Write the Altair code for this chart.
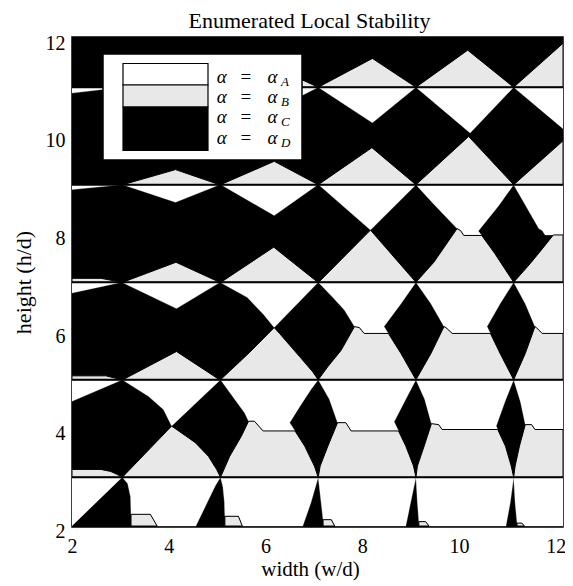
import altair as alt
import pandas as pd

TITLE = "Enumerated Local Stability"
X_TITLE = "width (w/d)"
Y_TITLE = "height (h/d)"
X_TICKS = [2, 4, 6, 8, 10, 12]
Y_TICKS = [2, 4, 6, 8, 10, 12]
SEPARATOR_HEIGHTS = [3, 5, 7, 9, 11]
LEGEND_SUBSCRIPTS = ["A", "B", "C", "D"]
STATE_COLORS = {"A": "#ffffff", "B": "#e8e8e8", "C": "#000000", "D": "#000000"}

# regions where alpha = alpha_A (white)
WHITE_REGIONS = [
    # band 2-3
    [(2, 2), (2, 3), (3.04, 3)],
    [(3.04, 3), (3.15, 2.87), (3.21, 2.6), (3.22, 2.24), (3.62, 2.24), (3.76, 2), (4.56, 2), (4.76, 2.41), (4.96, 2.82), (5.07, 3)],
    [(5.07, 3), (5.12, 2.8), (5.15, 2.5), (5.16, 2.2), (5.44, 2.2), (5.52, 2), (6.77, 2), (6.94, 2.48), (7.09, 3)],
    [(7.09, 3), (7.15, 2.48), (7.19, 2.13), (7.36, 2.13), (7.43, 2), (8.9, 2), (9.0, 2.48), (9.11, 3)],
    [(9.11, 3), (9.14, 2.48), (9.17, 2.09), (9.31, 2.09), (9.38, 2), (10.97, 2), (11.06, 2.48), (11.13, 3)],
    [(11.13, 3), (11.16, 2.48), (11.2, 2.06), (11.3, 2.06), (11.35, 2), (12.15, 2), (12.15, 3)],
    # band 3-5
    [(2, 5), (2, 4.56), (3.04, 5)],
    [(3.04, 5), (3.58, 4.66), (3.89, 4.39), (4.06, 4.05), (5.07, 5)],
    [(5.07, 5), (5.37, 4.59), (5.57, 4.32), (5.65, 4.15), (5.77, 4.15), (5.95, 3.95), (6.61, 3.95), (6.5, 4.12), (6.74, 4.5), (6.94, 4.8), (7.09, 5)],
    [(7.09, 5), (7.32, 4.6), (7.49, 4.12), (7.66, 4.12), (7.77, 3.95), (8.75, 3.95), (8.66, 4.14), (8.9, 4.6), (9.11, 5)],
    [(9.11, 5), (9.29, 4.6), (9.43, 4.1), (9.58, 4.08), (9.65, 3.98), (10.8, 3.98), (10.77, 4.05), (10.95, 4.55), (11.13, 5)],
    [(11.13, 5), (11.27, 4.55), (11.37, 4.08), (11.5, 4.08), (11.57, 3.98), (12.15, 3.98), (12.15, 5)],
    # band 5-7
    [(2, 7), (2, 6.78), (3.03, 7)],
    [(3.03, 7), (4.16, 6.46), (5.06, 7)],
    [(5.06, 7), (5.62, 6.69), (5.96, 6.34), (6.18, 6.07), (7.09, 7)],
    [(7.09, 7), (7.38, 6.7), (7.63, 6.43), (7.84, 6.09), (7.94, 6.07), (8.04, 5.95), (8.54, 5.95), (8.45, 6.09), (8.8, 6.56), (9.11, 7)],
    [(9.11, 7), (9.42, 6.56), (9.69, 6.09), (9.73, 6.07), (9.86, 5.95), (10.65, 5.95), (10.58, 6.09), (10.85, 6.56), (11.13, 7)],
    [(11.13, 7), (11.37, 6.56), (11.57, 6.09), (11.6, 6.07), (11.72, 5.95), (12.15, 5.95), (12.15, 7)],
    # band 7-9
    [(2, 9), (2, 8.9), (3.02, 9)],
    [(3.05, 9), (4.14, 8.64), (5.05, 9)],
    [(5.08, 9), (6.18, 8.37), (7.08, 9)],
    [(7.1, 9), (8.17, 8.07), (9.11, 9)],
    [(9.11, 9), (9.48, 8.6), (9.96, 8.1), (10.03, 8.06), (10.1, 7.96), (10.47, 7.96), (10.4, 8.05), (10.82, 8.57), (11.13, 9)],
    [(11.13, 9), (11.65, 8.1), (11.72, 8.06), (11.78, 7.97), (12.15, 7.97), (12.15, 9)],
    # band 9-11
    [(2, 11), (2, 10.88), (3.03, 11)],
    [(3.05, 11), (4.1, 10.7), (5.05, 11)],
    [(5.08, 11), (6.1, 10.5), (7.09, 11)],
    [(7.09, 11), (8.21, 10.27), (9.11, 11)],
    [(9.11, 11), (10.23, 10.06), (11.13, 11)],
    [(11.13, 11), (12.15, 10.15), (12.15, 11)],
]

# regions where alpha = alpha_B (stippled)
STIPPLE_REGIONS = [
    # band 2-3
    [(3.22, 2), (3.22, 2.24), (3.62, 2.24), (3.76, 2)],
    [(5.16, 2), (5.16, 2.2), (5.44, 2.2), (5.52, 2)],
    [(7.19, 2), (7.19, 2.13), (7.36, 2.13), (7.43, 2)],
    [(9.17, 2), (9.17, 2.09), (9.31, 2.09), (9.38, 2)],
    [(11.2, 2), (11.2, 2.06), (11.3, 2.06), (11.35, 2)],
    # band 3-5
    [(2, 3), (2, 3.16), (2.6, 3.16), (2.8, 3.12), (2.95, 3.05), (3.04, 3)],
    [(3.04, 3), (4.06, 4.05), (4.55, 3.71), (4.82, 3.43), (4.99, 3.16), (5.07, 3)],
    [(5.07, 3), (5.26, 3.43), (5.5, 3.84), (5.65, 4.15), (5.77, 4.15), (5.95, 3.95), (6.61, 3.95), (6.81, 3.64), (7.01, 3.23), (7.09, 3)],
    [(7.09, 3), (7.13, 3.23), (7.29, 3.64), (7.49, 4.12), (7.66, 4.12), (7.77, 3.95), (8.75, 3.95), (8.9, 3.64), (9.06, 3.23), (9.11, 3)],
    [(9.11, 3), (9.14, 3.23), (9.28, 3.64), (9.43, 4.1), (9.58, 4.08), (9.65, 3.98), (10.8, 3.98), (10.96, 3.64), (11.08, 3.23), (11.13, 3)],
    [(11.13, 3), (11.16, 3.23), (11.25, 3.64), (11.37, 4.08), (11.5, 4.08), (11.57, 3.98), (12.15, 3.98), (12.15, 3)],
    # band 5-7
    [(2, 5), (2, 5.08), (2.7, 5.08), (3.03, 5)],
    [(3.05, 5), (4.16, 5.58), (5.05, 5)],
    [(5.07, 5), (5.67, 5.56), (6.18, 6.07), (6.29, 5.95), (6.7, 5.48), (6.97, 5.17), (7.09, 5)],
    [(7.09, 5), (7.29, 5.27), (7.56, 5.6), (7.84, 6.09), (7.94, 6.07), (8.04, 5.95), (8.54, 5.95), (8.8, 5.54), (9.11, 5)],
    [(9.11, 5), (9.42, 5.54), (9.69, 6.09), (9.73, 6.07), (9.86, 5.95), (10.65, 5.95), (10.85, 5.54), (11.13, 5)],
    [(11.13, 5), (11.37, 5.54), (11.57, 6.09), (11.6, 6.07), (11.72, 5.95), (12.15, 5.95), (12.15, 5)],
    # band 7-9
    [(2, 7), (2, 7.08), (2.6, 7.08), (3.02, 7)],
    [(3.05, 7), (4.15, 7.41), (5.05, 7)],
    [(5.08, 7), (6.17, 7.72), (7.08, 7)],
    [(7.1, 7), (8.17, 8.07), (9.11, 7)],
    [(9.11, 7), (9.48, 7.41), (9.96, 8.1), (10.03, 8.06), (10.1, 7.96), (10.47, 7.96), (10.74, 7.59), (11.13, 7)],
    [(11.13, 7), (11.47, 7.38), (11.75, 7.72), (11.95, 7.97), (12.15, 7.97), (12.15, 7)],
    # band 9-11
    [(3.05, 9), (4.14, 9.31), (5.05, 9)],
    [(5.07, 9), (6.18, 9.48), (7.09, 9)],
    [(7.09, 9), (8.2, 9.76), (9.11, 9)],
    [(9.11, 9), (10.2, 9.99), (11.13, 9)],
    [(11.13, 9), (12.15, 9.9), (12.15, 9)],
    # band 11-12
    [(3.05, 11), (4.1, 11.3), (5.05, 11)],
    [(5.08, 11), (6.1, 11.45), (7.09, 11)],
    [(7.09, 11), (8.21, 11.59), (9.11, 11)],
    [(9.11, 11), (10.18, 11.76), (11.13, 11)],
    [(11.13, 11), (12.15, 11.9), (12.15, 11)],
]


def to_frame(regions, prefix, close):
    rows = []
    for k, poly in enumerate(regions):
        pts = list(poly) + ([poly[0]] if close else [])
        for i, (x, y) in enumerate(pts):
            rows.append({"pid": f"{prefix}{k}", "i": i, "x": x, "y": y})
    return pd.DataFrame(rows)


FONT = "Liberation Serif"
x_scale = alt.Scale(domain=[2, 12.15], nice=False, zero=False)
y_scale = alt.Scale(domain=[1.98, 12.03], nice=False, zero=False)
x_axis = alt.Axis(values=X_TICKS, ticks=False, domain=False, grid=False,
                  labelFont=FONT, labelFontSize=20, labelColor="black", labelPadding=9,
                  labelFlush=False, title=X_TITLE, titleFont=FONT, titleFontSize=21,
                  titleFontWeight="normal", titleColor="black", titlePadding=2,
                  titleX=238)
y_axis = alt.Axis(values=Y_TICKS, ticks=False, domain=False, grid=False,
                  labelFont=FONT, labelFontSize=20, labelColor="black", labelPadding=7,
                  labelOffset=5, labelFlush=False, title=Y_TITLE, titleFont=FONT,
                  titleFontSize=22, titleFontWeight="normal", titleColor="black",
                  titlePadding=10)
X = alt.X("x:Q", scale=x_scale, axis=x_axis)
Y = alt.Y("y:Q", scale=y_scale, axis=y_axis)

white = alt.Chart(to_frame(WHITE_REGIONS, "w", False)).mark_line(
    fill=STATE_COLORS["A"], stroke=STATE_COLORS["A"], strokeWidth=0.3, clip=True
).encode(x=X, y=Y, detail="pid:N", order="i:Q")

stipple = alt.Chart(to_frame(STIPPLE_REGIONS, "s", True)).mark_line(
    fill=STATE_COLORS["B"], stroke="black", strokeWidth=1, clip=True
).encode(x=X, y=Y, detail="pid:N", order="i:Q")

rules = alt.Chart(pd.DataFrame({"y": SEPARATOR_HEIGHTS})).mark_rule(
    color="black", strokeWidth=2, clip=True
).encode(y=Y)

one = pd.DataFrame({"k": [0]})
legend_layers = [
    alt.Chart(one).mark_rect(fill="white", stroke="black", strokeWidth=1.5).encode(
        x=alt.value(31), x2=alt.value(230), y=alt.value(17), y2=alt.value(123)),
    alt.Chart(one).mark_rect(fill=STATE_COLORS["A"], stroke="black", strokeWidth=1.2).encode(
        x=alt.value(51), x2=alt.value(136), y=alt.value(26.5), y2=alt.value(48)),
    alt.Chart(one).mark_rect(fill=STATE_COLORS["B"], stroke="black", strokeWidth=1.2).encode(
        x=alt.value(51), x2=alt.value(136), y=alt.value(48), y2=alt.value(70)),
    alt.Chart(one).mark_rect(fill=STATE_COLORS["C"], stroke="black", strokeWidth=1.2).encode(
        x=alt.value(51), x2=alt.value(136), y=alt.value(70), y2=alt.value(113.5)),
]
for r, sub in enumerate(LEGEND_SUBSCRIPTS):
    yc = 39.7 + r * 20.3
    legend_layers += [
        alt.Chart(one).mark_text(text="α", font=FONT, fontSize=19, fontStyle="italic",
                                 align="center", baseline="middle", color="black").encode(
            x=alt.value(149.7), y=alt.value(yc)),
        alt.Chart(one).mark_text(text="=", font=FONT, fontSize=19,
                                 align="center", baseline="middle", color="black").encode(
            x=alt.value(173.8), y=alt.value(yc)),
        alt.Chart(one).mark_text(text="α", font=FONT, fontSize=19, fontStyle="italic",
                                 align="center", baseline="middle", color="black").encode(
            x=alt.value(200.5), y=alt.value(yc)),
        alt.Chart(one).mark_text(text=sub, font=FONT, fontSize=13, fontStyle="italic",
                                 align="left", baseline="middle", color="black").encode(
            x=alt.value(209), y=alt.value(yc + 5)),
    ]

chart = alt.layer(white, stipple, rules, *legend_layers).properties(
    width=491, height=490,
    title=alt.TitleParams(TITLE, font=FONT, fontSize=22, fontWeight="normal",
                          color="black", anchor="middle", offset=0, dx=-8),
    autosize=alt.AutoSizeParams(type="none"),
    padding={"left": 64, "top": 29, "right": 2, "bottom": 55},
).configure_view(fill="black", stroke="black", strokeWidth=1.5)

chart.save("out.html", embed_options={"renderer": "svg", "actions": False})
